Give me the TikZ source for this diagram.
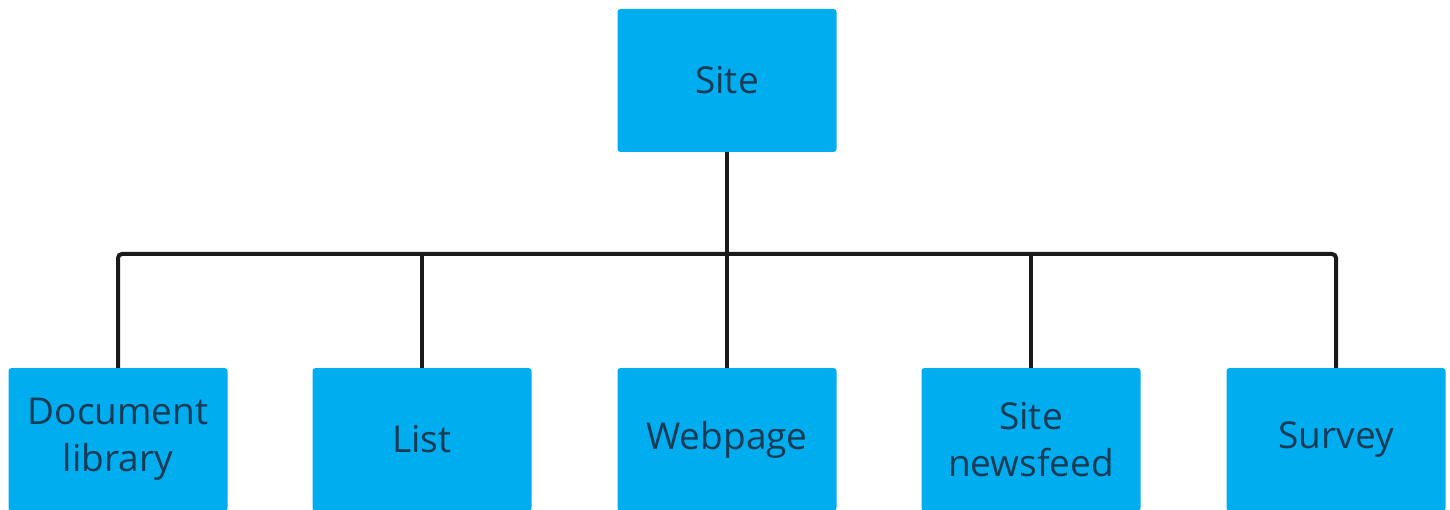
\documentclass[tikz,border=0pt]{standalone}
\usepackage{fontspec}
\setmainfont{Open Sans}
\definecolor{boxblue}{HTML}{00ADEF}
\definecolor{boxtext}{HTML}{173A55}
\definecolor{linecol}{HTML}{1A1A1A}
\begin{document}
\begin{tikzpicture}[x=1pt,y=-1pt,
  blockbox/.style={fill=boxblue,rounded corners=3pt,minimum width=219pt,minimum height=143pt,
    inner sep=0pt,align=center,text=boxtext,font=\fontsize{37}{47}\selectfont},
  conn/.style={draw=linecol,line width=4pt}]
\useasboundingbox (0,0) rectangle (1450,510);
\node[blockbox] (site) at (727,80.5) {Site};
\node[blockbox] (doc) at (118,439.5) {Document\\library};
\node[blockbox] (list) at (422,439.5) {List};
\node[blockbox] (web) at (727,439.5) {Webpage};
\node[blockbox] (news) at (1031,439.5) {Site\\newsfeed};
\node[blockbox] (survey) at (1336,439.5) {Survey};
\coordinate (bus) at (727,254);
\draw[conn] (site.south) -- (web.north);
\draw[conn,rounded corners=4pt] (doc.north) |- (bus) -| (survey.north);
\draw[conn] (list.north) -- (list.north |- bus);
\draw[conn] (news.north) -- (news.north |- bus);
\end{tikzpicture}
\end{document}
